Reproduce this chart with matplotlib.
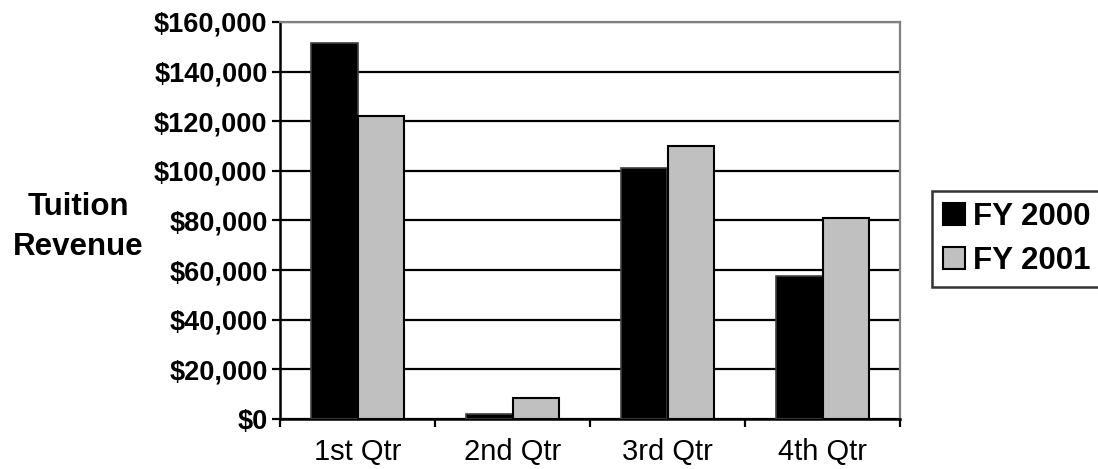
import matplotlib
matplotlib.use("Agg")
import numpy as np
import matplotlib.pyplot as plt
from matplotlib.patches import Patch
from matplotlib.ticker import FuncFormatter

# Chart data
quarters = ["1st Qtr", "2nd Qtr", "3rd Qtr", "4th Qtr"]
fy2000 = [151500, 2200, 101000, 57700]
fy2001 = [122000, 8500, 110000, 81000]
series_names = ["FY 2000", "FY 2001"]

narrow = ["Liberation Sans Narrow", "Liberation Sans", "DejaVu Sans"]
wide = ["Liberation Sans", "DejaVu Sans"]

fig = plt.figure(figsize=(10.98, 4.69), dpi=100)
ax = fig.add_axes([280 / 1098, 50 / 469, 620 / 1098, 397 / 469])

bar_width = 0.297
indices = np.arange(len(quarters))

ax.bar(indices - bar_width / 2, fy2000, bar_width, color='black', edgecolor='#404040',
       linewidth=1.2, zorder=3)
ax.bar(indices + bar_width / 2, fy2001, bar_width, color='#c0c0c0', edgecolor='black',
       linewidth=1.5, zorder=3)

ax.set_xlim(-0.5, 3.5)
ax.set_ylim(0, 160000)
ax.set_yticks(np.arange(0, 160001, 20000))
ax.yaxis.set_major_formatter(FuncFormatter(lambda v, p: "${:,.0f}".format(v)))
ax.grid(axis='y', color='black', linewidth=1.6, zorder=1)
ax.set_axisbelow(True)

# category labels at centres, tick marks on the boundaries
ax.set_xticks(indices)
ax.set_xticklabels(quarters)
ax.set_xticks(np.arange(-0.5, 4, 1), minor=True)
ax.tick_params(axis='x', which='major', length=0, pad=14)
ax.tick_params(axis='x', which='minor', length=6, width=1.6, direction='out', color='black')
ax.tick_params(axis='y', length=6, width=1.6, direction='out', pad=3)

for lab in ax.get_xticklabels():
    lab.set_fontfamily(narrow)
    lab.set_fontsize(21)
for lab in ax.get_yticklabels():
    lab.set_fontfamily(narrow)
    lab.set_fontsize(19.5)
    lab.set_fontweight('bold')

for side in ['left', 'bottom']:
    ax.spines[side].set_color('black')
    ax.spines[side].set_linewidth(1.8)
for side in ['top', 'right']:
    ax.spines[side].set_color('#808080')
    ax.spines[side].set_linewidth(1.6)

fig.text(78 / 1098, 1 - 227 / 469, "Tuition\nRevenue", ha='center', va='center',
         fontsize=22.5, fontweight='bold', family=wide, linespacing=1.4)

handles = [Patch(facecolor='black', edgecolor='black', linewidth=1.5),
           Patch(facecolor='#c0c0c0', edgecolor='black', linewidth=1.5)]
leg = fig.legend(handles, series_names, loc='upper left',
                 bbox_to_anchor=(932 / 1098, 1 - 191 / 469),
                 prop={'family': wide, 'size': 22.5, 'weight': 'bold'},
                 handlelength=0.7, handleheight=0.7, handletextpad=0.25,
                 borderpad=0.35, labelspacing=0.45, borderaxespad=0,
                 fancybox=False, frameon=True)
leg.get_frame().set_edgecolor('black')
leg.get_frame().set_linewidth(1.8)

fig.savefig("out.png", dpi=100)
